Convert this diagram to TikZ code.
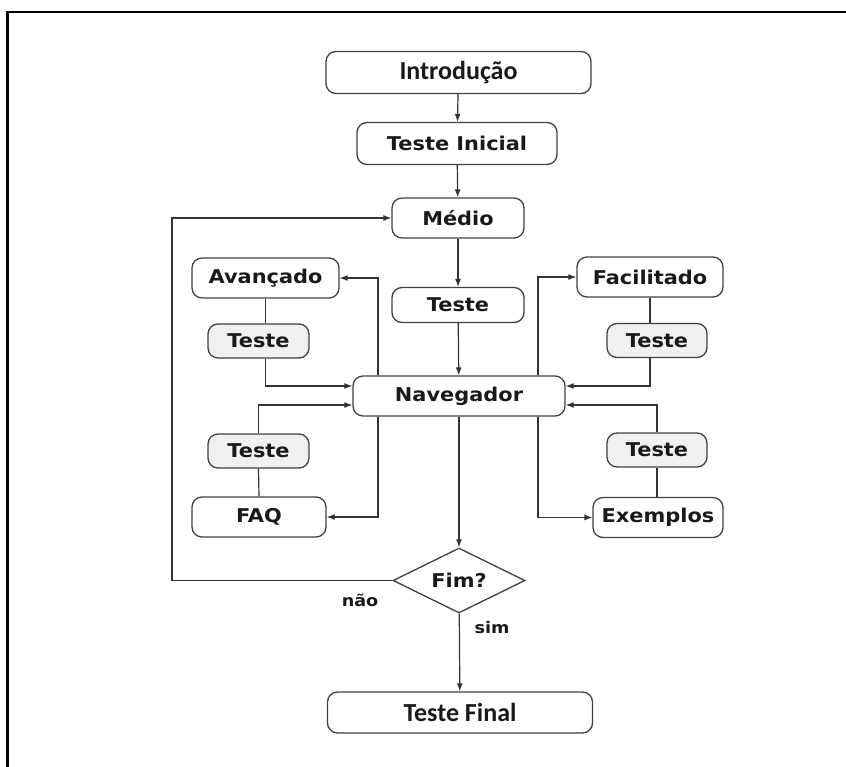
\documentclass[tikz,border=0pt]{standalone}
\usepackage{fontspec}
\usepackage{tikz}
\usetikzlibrary{positioning, shapes.geometric, arrows.meta}
\newfontfamily\boxfont{DejaVu Sans}[FakeStretch=1.1]
\newfontfamily\endfont{Carlito}

\begin{document}
\begin{tikzpicture}[
    x=1pt, y=-1pt,
    >={Latex[length=8pt,width=6pt]},
    every node/.style={text=black!90},
    box/.style={draw=black!75, line width=1.3pt, rounded corners=10pt,
        inner sep=0pt, minimum height=40pt,
        font=\boxfont\bfseries\fontsize{19}{22}\selectfont},
    endbox/.style={box, minimum width=265pt,
        font=\endfont\bfseries\fontsize{26}{30}\selectfont},
    testbox/.style={box, fill=black!6, minimum width=101pt, minimum height=34pt},
    decision/.style={draw=black!75, line width=1.3pt, diamond, aspect=2,
        inner sep=0pt, minimum width=132pt, minimum height=65pt,
        font=\boxfont\bfseries\fontsize{19}{22}\selectfont},
    flow/.style={->, draw=black!80, line width=1.2pt},
    link/.style={draw=black!80, line width=1.2pt},
    answer/.style={font=\boxfont\bfseries\fontsize{16}{19}\selectfont}
]
\useasboundingbox (0,0) rectangle (846,767);
\draw[line width=2.5pt] (846,12) -- (7.5,12) -- (7.5,767);

\node[endbox, minimum height=42pt] (intro) at (458.5,72.5) {Introdução};
\node[box, minimum width=200pt, minimum height=42pt] (inicial) at (457,143.5) {Teste Inicial};
\node[box, minimum width=132pt] (medio) at (458,218) {Médio};
\node[box, minimum width=132pt, minimum height=35pt] (testem) at (458,305) {Teste};
\node[box, minimum width=212pt] (nav) at (459,396) {Navegador};

\node[box, minimum width=147pt] (avanc) at (265.5,278) {Avançado};
\node[testbox] (testea) at (258.5,341) {Teste};
\node[testbox] (testef) at (258.5,451) {Teste};
\node[box, minimum width=134pt] (faq) at (259,517) {FAQ};

\node[box, minimum width=146pt] (facil) at (650,277) {Facilitado};
\node[testbox, minimum width=100pt] (testec) at (657,340.5) {Teste};
\node[testbox, minimum width=100pt] (testee) at (657,450) {Teste};
\node[box, minimum width=130pt] (exem) at (658,517.5) {Exemplos};

\node[decision] (fim) at (459,580.5) {Fim?};
\node[endbox, minimum height=41pt] (final) at (460,712.5) {Teste Final};

\node[answer] (nao) at (360,600) {não};
\node[answer] (sim) at (492,628) {sim};

\draw[flow] (intro) -- (inicial);
\draw[flow] (inicial) -- (medio);
\draw[flow] (medio) -- (testem);
\draw[flow] (testem) -- (nav);
\draw[flow] (nav) -- (fim);
\draw[flow] (fim) -- (final);
\draw[flow] (fim.west) -| (172,400) |- (medio.west);

\draw[link] (avanc.south) -- (avanc.south |- testea.north);
\draw[flow] (avanc.south |- testea.south) |- ([yshift=10pt]nav.west);
\draw[flow] ([xshift=-81pt]nav.north) |- (avanc.east);
\draw[link] (faq.north) -- (testef.south);
\draw[flow] (testef.north) |- ([yshift=-9pt]nav.west);
\draw[flow] ([xshift=-81pt]nav.south) |- (faq.east);

\draw[link] (facil.south) -- (facil.south |- testec.north);
\draw[flow] (facil.south |- testec.south) |- ([yshift=10pt]nav.east);
\draw[flow] ([xshift=79pt]nav.north) |- (facil.west);
\draw[link] (testee.south) -- (testee.south |- exem.north);
\draw[flow] (testee.north) |- ([yshift=-9pt]nav.east);
\draw[flow] ([xshift=79pt]nav.south) |- (exem.west);

\end{tikzpicture}
\end{document}
